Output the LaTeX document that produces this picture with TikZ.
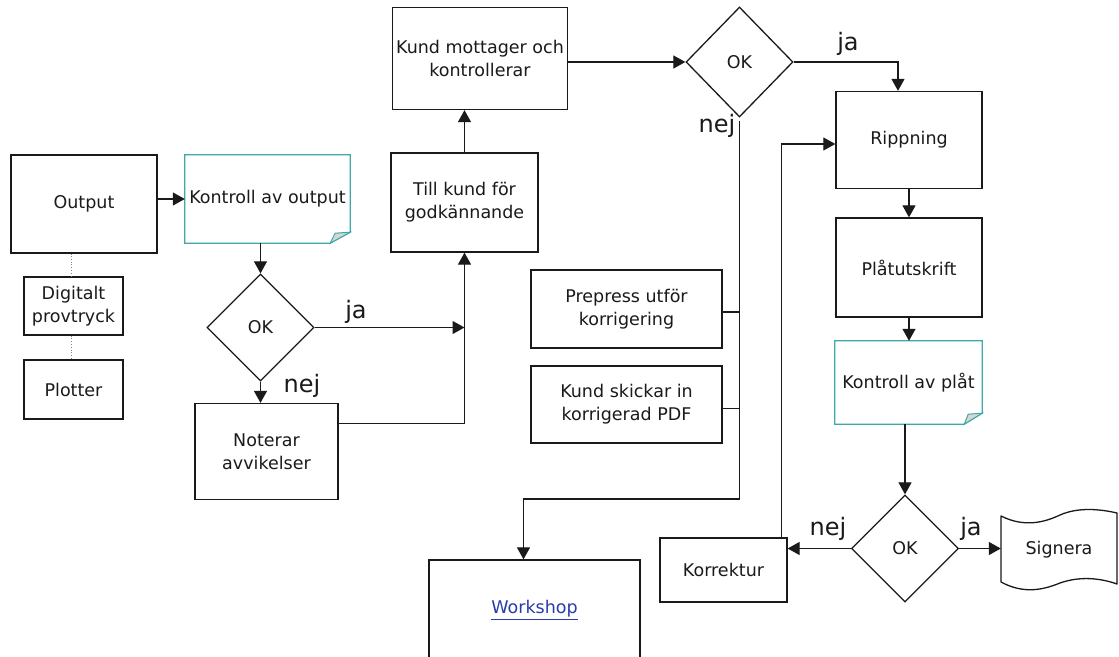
\documentclass[tikz,border=0pt]{standalone}
\usepackage{fontspec}
\setmainfont{DejaVu Sans}
\usetikzlibrary{arrows.meta,shapes.geometric,calc}
\definecolor{ink}{HTML}{1A1A1A}
\definecolor{notecol}{HTML}{3FA9A9}
\definecolor{linkcol}{HTML}{2A3CAA}
\definecolor{foldcol}{HTML}{D6D6D6}

\begin{document}
\begin{tikzpicture}[x=1pt,y=-1pt,
  every node/.style={font=\fontsize{17.5}{23}\selectfont, text=ink},
  box/.style={draw=ink, line width=1.3pt, align=center, inner sep=0pt},
  dec/.style={diamond, draw=ink, line width=1.3pt, inner sep=0pt,
              minimum width=107pt, minimum height=107pt},
  conn/.style={draw=ink, line width=1.2pt},
  arr/.style={conn, -{Triangle[length=12pt,width=13pt]}},
  lbl/.style={font=\fontsize{24}{24}\selectfont, inner sep=0pt},
  dots/.style={draw=gray, line width=0.8pt, dotted},
  notebox/.style={align=center, inner sep=0pt},
  noteline/.style={draw=notecol, line width=1.2pt}
]
\clip (0,0) rectangle (1119,656);
\fill[white] (0,0) rectangle (1119,656);

% output devices
\node[box, minimum width=146pt, minimum height=98pt] (out) at (84,204) {Output};
\node[box, minimum width=99pt, minimum height=58pt] (dg) at (73.5,306) {Digitalt\\provtryck};
\node[box, minimum width=99pt, minimum height=59pt] (plt) at (73.5,389.5) {Plotter};

% first check loop
\node[notebox, minimum width=165pt, minimum height=88pt] (ko) at (267.5,199) {Kontroll av output};
\node[dec] (ok1) at (260.5,327.5) {OK};
\node[box, minimum width=143pt, minimum height=96pt] (nt) at (266.5,451.5) {Noterar\\avvikelser};
\node[box, minimum width=147pt, minimum height=99pt] (tk) at (464.5,202.5) {Till kund för\\godkännande};
\node[box, minimum width=175pt, minimum height=102pt] (km) at (480,58.5) {Kund mottager och\\kontrollerar};
\node[dec, minimum height=110pt] (ok2) at (739.5,62) {OK};

% corrections
\node[box, minimum width=191pt, minimum height=78pt] (pp) at (626.5,309) {Prepress utför\\korrigering};
\node[box, minimum width=191pt, minimum height=77pt] (ks) at (626.5,404.5) {Kund skickar in\\korrigerad PDF};
\node[box, minimum width=211pt, minimum height=100pt] (ws) at (534.5,610) {\textcolor{linkcol}{\underline{Workshop}}};

% plate production
\node[box, minimum width=146pt, minimum height=97pt] (rip) at (909,140) {Rippning};
\node[box, minimum width=146pt, minimum height=99pt] (pla) at (909,267.5) {Plåtutskrift};
\node[notebox, minimum width=147pt, minimum height=83pt] (kp) at (908.5,382.5) {Kontroll av plåt};
\node[dec] (ok3) at (905,548.5) {OK};
\node[box, minimum width=127pt, minimum height=64pt] (kor) at (723.5,570) {Korrektur};
\node[inner sep=0pt, minimum width=116pt, minimum height=68pt] (sig) at (1059,550) {Signera};

% punched-tape outline of the sign-off node
\begin{scope}[shift={(sig.center)}]
  \draw[ink, line width=1.3pt, line join=round]
    (-58,-34) .. controls (-34,-22) and (-14,-28) .. (1,-35)
    .. controls (19,-43) and (41,-41) .. (58,-37)
    -- (58,34)
    .. controls (41,28) and (21,26) .. (1,33)
    .. controls (-14,39) and (-34,45) .. (-58,32) -- cycle;
\end{scope}

% note outlines with folded corner
\draw[noteline] (ko.north west) -- (ko.north east) -- ([yshift=11pt]ko.south east)
  -- ([xshift=-20pt]ko.south east) -- (ko.south west) -- cycle;
\filldraw[noteline, fill=foldcol, line width=1pt] ([xshift=-20pt]ko.south east)
  -- ([xshift=-15pt,yshift=10pt]ko.south east) -- ([yshift=11pt]ko.south east) -- cycle;
\draw[noteline] (kp.north west) -- (kp.north east) -- ([yshift=11pt]kp.south east)
  -- ([xshift=-18pt]kp.south east) -- (kp.south west) -- cycle;
\filldraw[noteline, fill=foldcol, line width=1pt] ([xshift=-18pt]kp.south east)
  -- ([xshift=-14pt,yshift=10pt]kp.south east) -- ([yshift=11pt]kp.south east) -- cycle;

% dotted links between output devices
\draw[dots] ([xshift=-2.5pt]dg.north) -- ([xshift=-2.5pt]dg.north |- out.south);
\draw[dots] ([xshift=-2.5pt]dg.south) -- ([xshift=-2.5pt]plt.north);

% connectors
\draw[arr] (out.east |- ko.west) -- (ko.west);
\draw[arr] (ok1.north |- ko.south) -- (ok1.north);
\draw[arr] (ok1.south) -- (ok1.south |- nt.north);
\draw[arr] (ok1.east) -- (ok1.east -| tk.south);
\draw[arr] ([yshift=28pt]nt.east) -| (tk.south);
\draw[arr] (tk.north) -- (tk.north |- km.south);
\draw[arr] (km.east |- ok2.west) -- (ok2.west);
\draw[arr] (ok2.east) -| ([xshift=-11pt]rip.north);
\coordinate (nb) at (741,499);
\draw[arr] ([yshift=-3pt]ok2.south) -- (ok2.south |- nb) -| ([xshift=-11pt]ws.north);
\draw[conn] ([yshift=-3pt]pp.east) -- ([yshift=-3pt]pp.east -| ok2.south);
\draw[conn] ([yshift=-4pt]ks.east) -- ([yshift=-4pt]ks.east -| ok2.south);
\draw[arr] (rip.south) -- (pla.north);
\draw[arr] (pla.south) -- (pla.south |- kp.north);
\draw[arr] (ok3.north |- kp.south) -- (ok3.north);
\draw[arr] (ok3.west) -- (ok3.west -| kor.east);
\draw[arr] ([xshift=58pt]kor.north) |- ([yshift=-4pt]rip.west);
\draw[arr] (ok3.east) -- (ok3.east -| sig.west);

% branch labels
\node[lbl] (ja1) at (356,312) {ja};
\node[lbl] (nej1) at (302,386) {nej};
\node[lbl] (ja2) at (848,44) {ja};
\node[lbl] (nej2) at (717,126) {nej};
\node[lbl] (nej3) at (828,529) {nej};
\node[lbl] (ja3) at (971,529) {ja};
\end{tikzpicture}
\end{document}
